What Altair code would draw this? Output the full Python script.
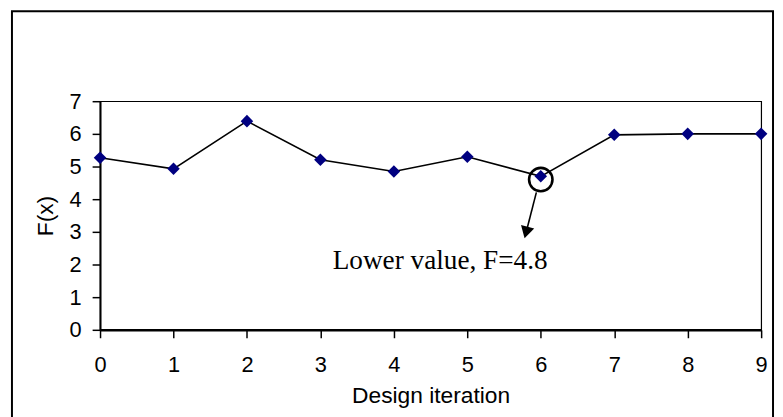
import altair as alt
import pandas as pd

# ---- data ----
iterations = [0, 1, 2, 3, 4, 5, 6, 7, 8, 9]
f_values = [5.27, 4.93, 6.39, 5.21, 4.85, 5.30, 4.70, 5.97, 6.00, 6.00]
x_ticks = [0, 1, 2, 3, 4, 5, 6, 7, 8, 9]
y_ticks = [0, 1, 2, 3, 4, 5, 6, 7]

note_text = ["Lower value, F=4.8"]
note_x = [4.63]
note_y = [1.85]
circle_x = [6.0]
circle_y = [4.6]
arrow_x = [5.94, 5.80]
arrow_y = [4.21, 2.98]
head_x = [5.80]
head_y = [2.98]

df = pd.DataFrame({"x": iterations, "y": f_values})
df_note = pd.DataFrame({"x": note_x, "y": note_y, "t": note_text})
df_circle = pd.DataFrame({"x": circle_x, "y": circle_y})
df_arrow = pd.DataFrame({"x": arrow_x, "y": arrow_y, "o": [0, 1]})
df_head = pd.DataFrame({"x": head_x, "y": head_y})

xs = alt.Scale(domain=[0, 9], nice=False, zero=False)
ys = alt.Scale(domain=[0, 7], nice=False)

x_axis = alt.Axis(
    values=x_ticks, title="Design iteration", format="d",
    domainWidth=2.5, tickSize=8, labelPadding=17, titlePadding=9,
    labelFontSize=22, titleFontSize=23, labelFlush=False)
y_axis = alt.Axis(
    values=y_ticks, title="F(x)", format="d",
    domainWidth=2, tickSize=8, labelPadding=11, titlePadding=12,
    labelFontSize=22, titleFontSize=23)

X = alt.X("x:Q", scale=xs, axis=x_axis)
Y = alt.Y("y:Q", scale=ys, axis=y_axis)

border = alt.Chart(alt.Data(values=[{}])).mark_rect(
    filled=False, stroke="black", strokeWidth=2
).encode(x=alt.value(-89), y=alt.value(-91), x2=alt.value(680), y2=alt.value(330))

line = alt.Chart(df).mark_line(color="black", strokeWidth=1.6).encode(x=X, y=Y)
points = alt.Chart(df).mark_point(
    shape="diamond", filled=True, color="#000080", size=160, opacity=1
).encode(x=X, y=Y)

circle = alt.Chart(df_circle).mark_point(
    shape="circle", filled=False, color="black", strokeWidth=2.6, size=560, opacity=1
).encode(x=X, y=Y)

arrow = alt.Chart(df_arrow).mark_line(color="black", strokeWidth=1.6).encode(
    x=X, y=Y, order="o:Q")
head = alt.Chart(df_head).mark_point(
    shape="triangle-down", filled=True, color="black", size=190, opacity=1, angle=15
).encode(x=X, y=Y)

note = alt.Chart(df_note).mark_text(
    font="Liberation Serif", fontSize=27.5, align="center", baseline="alphabetic", color="black"
).encode(x=X, y=Y, text="t:N")

chart = alt.layer(border, line, points, circle, arrow, head, note).properties(
    width=668, height=231,
    autosize=alt.AutoSizeParams(type="none"),
    padding={"left": 93, "top": 92, "right": 14, "bottom": 95},
    background="white",
).configure_view(stroke="black", strokeWidth=1.2).configure_axis(
    grid=False, domainColor="black", tickColor="black", labelColor="black",
    titleColor="black", labelFont="Liberation Sans", titleFont="Liberation Sans",
    titleFontWeight="normal", tickWidth=1.5
)

chart.save("out.html", embed_options={"renderer": "svg", "actions": False})
